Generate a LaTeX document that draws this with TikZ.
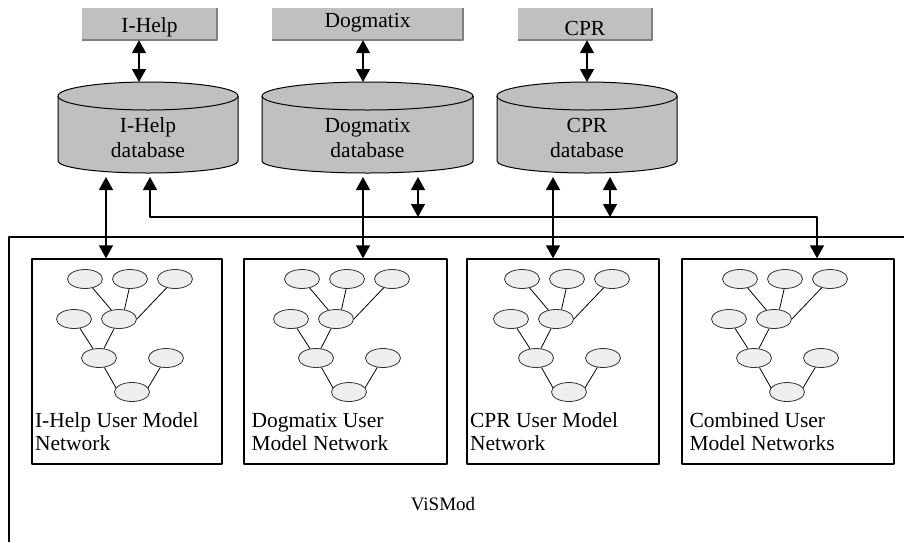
\documentclass[tikz,border=0pt]{standalone}
\usepackage{fontspec}
\setmainfont{Liberation Serif}
\usetikzlibrary{shapes.geometric,arrows.meta}

\definecolor{boxgray}{HTML}{C0C0C0}
\definecolor{shadegray}{HTML}{808080}
\definecolor{netfill}{HTML}{EEEEEE}

\tikzset{
  topbox/.style={fill=boxgray, inner sep=0pt, minimum height=32pt},
  shadowedge/.style={draw=shadegray, line width=1.6pt},
  cylbody/.style={fill=boxgray, draw=black, line width=1pt},
  cylrim/.style={draw=black, line width=1pt},
  lbl/.style={font=\fontsize{21.5}{23}\selectfont, inner sep=0pt},
  bothways/.style={line width=1.3pt,
    {Triangle[width=14pt,length=13pt]}-{Triangle[width=14pt,length=13pt]}},
  netbox/.style={draw=black, line width=1.3pt, fill=white, minimum height=205pt, inner sep=0pt},
  netnode/.style={ellipse, draw=black!80, line width=0.8pt, fill=netfill,
    minimum width=35pt, minimum height=19pt, inner sep=0pt},
  netedge/.style={line width=0.8pt},
  frameline/.style={line width=1.3pt},
}

% database cylinder: #1 centre x, #2 half width, #3 name of centre point
\newcommand{\dbcylinder}[3]{%
  \path[cylbody] (#1-#2,-96) -- (#1-#2,-161)
     arc[start angle=180, end angle=360, x radius=#2pt, y radius=12pt]
     -- (#1+#2,-96)
     arc[start angle=0, end angle=180, x radius=#2pt, y radius=14pt] -- cycle;
  \draw[cylrim] (#1-#2,-96)
     arc[start angle=180, end angle=360, x radius=#2pt, y radius=14pt];
  \coordinate (#3) at (#1,-127.5);
}

% user model network: #1 name prefix, #2 x of the upper middle node
\newcommand{\usernet}[2]{%
  \node[netnode] (#1e1) at (#2-45,-279) {};
  \node[netnode] (#1e2) at (#2,-279) {};
  \node[netnode] (#1e3) at (#2+45,-279) {};
  \node[netnode] (#1e4) at (#2-56,-319) {};
  \node[netnode] (#1e5) at (#2-11,-319) {};
  \node[netnode] (#1e6) at (#2-31,-358) {};
  \node[netnode] (#1e7) at (#2+36,-358) {};
  \node[netnode] (#1e8) at (#2+2,-392) {};
  \draw[netedge] (#1e1) -- (#1e5);
  \draw[netedge] (#1e2.-95) -- (#1e5.60);
  \draw[netedge] (#1e3) -- (#1e5.east);
  \draw[netedge] (#1e4) -- (#1e6);
  \draw[netedge] (#1e5) -- (#1e6);
  \draw[netedge] (#1e6) -- (#1e8.165);
  \draw[netedge] (#1e7) -- (#1e8.15);
}

\begin{document}
\begin{tikzpicture}[x=1pt, y=1pt, line join=round]
\useasboundingbox (0,0) rectangle (904,-542);

% application boxes
\node[topbox, minimum width=135pt] (t1) at (149.5,-24) {};
\node[topbox, minimum width=191pt] (t2) at (367.5,-24) {};
\node[topbox, minimum width=134pt] (t3) at (585,-24) {};
\foreach \t in {t1,t2,t3}
  \draw[shadowedge] (\t.north east) -- (\t.south east) -- (\t.south west);
\node[lbl, anchor=base] (t1txt) at (t1 |- 0,-32) {I-Help};
\node[lbl, anchor=base] (t2txt) at (t2 |- 0,-27) {Dogmatix};
\node[lbl, anchor=base] (t3txt) at (t3 |- 0,-35) {CPR};

% databases
\dbcylinder{148}{90}{c1}
\dbcylinder{367.5}{105.5}{c2}
\dbcylinder{587}{90}{c3}
\node[lbl, anchor=base] (c1a) at (148,-132) {I-Help};
\node[lbl, anchor=base] (c1b) at (148,-157) {database};
\node[lbl, anchor=base] (c2a) at (367.5,-132) {Dogmatix};
\node[lbl, anchor=base] (c2b) at (367.5,-157) {database};
\node[lbl, anchor=base] (c3a) at (587,-132) {CPR};
\node[lbl, anchor=base] (c3b) at (587,-157) {database};

% ViSMod frame
\draw[frameline] (9,-542) -- (9,-237) -- (904,-237);
\node[font=\fontsize{19}{21}\selectfont] (vismod) at (443,-504) {ViSMod};

% user model network boxes
\node[netbox, minimum width=190pt] (b1) at (127,-361.5) {};
\node[netbox, minimum width=203pt] (b2) at (345.5,-361.5) {};
\node[netbox, minimum width=192pt] (b3) at (563,-361.5) {};
\node[netbox, minimum width=212pt] (b4) at (788,-361.5) {};

\usernet{n1}{130}
\usernet{n2}{347}
\usernet{n3}{567}
\usernet{n4}{785}

\node[lbl, anchor=base west] (b1l1) at ([xshift=3.5pt]b1.west |- 0,-427) {I-Help User Model};
\node[lbl, anchor=base west] (b1l2) at ([xshift=3.5pt]b1.west |- 0,-450) {Network};
\node[lbl, anchor=base west] (b2l1) at ([xshift=8pt]b2.west |- 0,-427) {Dogmatix User};
\node[lbl, anchor=base west] (b2l2) at ([xshift=8pt]b2.west |- 0,-450) {Model Network};
\node[lbl, anchor=base west] (b3l1) at ([xshift=3.5pt]b3.west |- 0,-427) {CPR User Model};
\node[lbl, anchor=base west] (b3l2) at ([xshift=3.5pt]b3.west |- 0,-450) {Network};
\node[lbl, anchor=base west] (b4l1) at ([xshift=8pt]b4.west |- 0,-427) {Combined User};
\node[lbl, anchor=base west] (b4l2) at ([xshift=8pt]b4.west |- 0,-450) {Model Networks};

% connector end points
\coordinate (u1) at (139,-82);
\coordinate (u2) at (363,-82);
\coordinate (u3) at (587,-82);
\coordinate (d1) at (106,-177);
\coordinate (d2) at (363,-177);
\coordinate (d3) at (553,-177);
\coordinate (s2) at (418,-177);
\coordinate (s3) at (610,-177);
\coordinate (f1) at (150,-177);
\coordinate (f2) at (817,-217);

% application <-> database
\draw[bothways] (t1.south -| u1) -- (u1);
\draw[bothways] (t2.south -| u2) -- (u2);
\draw[bothways] (t3.south -| u3) -- (u3);

% database <-> network
\draw[bothways] (d1) -- (d1 |- b1.north);
\draw[bothways] (d2) -- (d2 |- b2.north);
\draw[bothways] (d3) -- (d3 |- b3.north);

% shared bus to the combined network
\draw[bothways] (f1) |- (f2) -- (f2 |- b4.north);
\draw[bothways] (s2) -- (s2 |- f2);
\draw[bothways] (s3) -- (s3 |- f2);
\end{tikzpicture}
\end{document}
